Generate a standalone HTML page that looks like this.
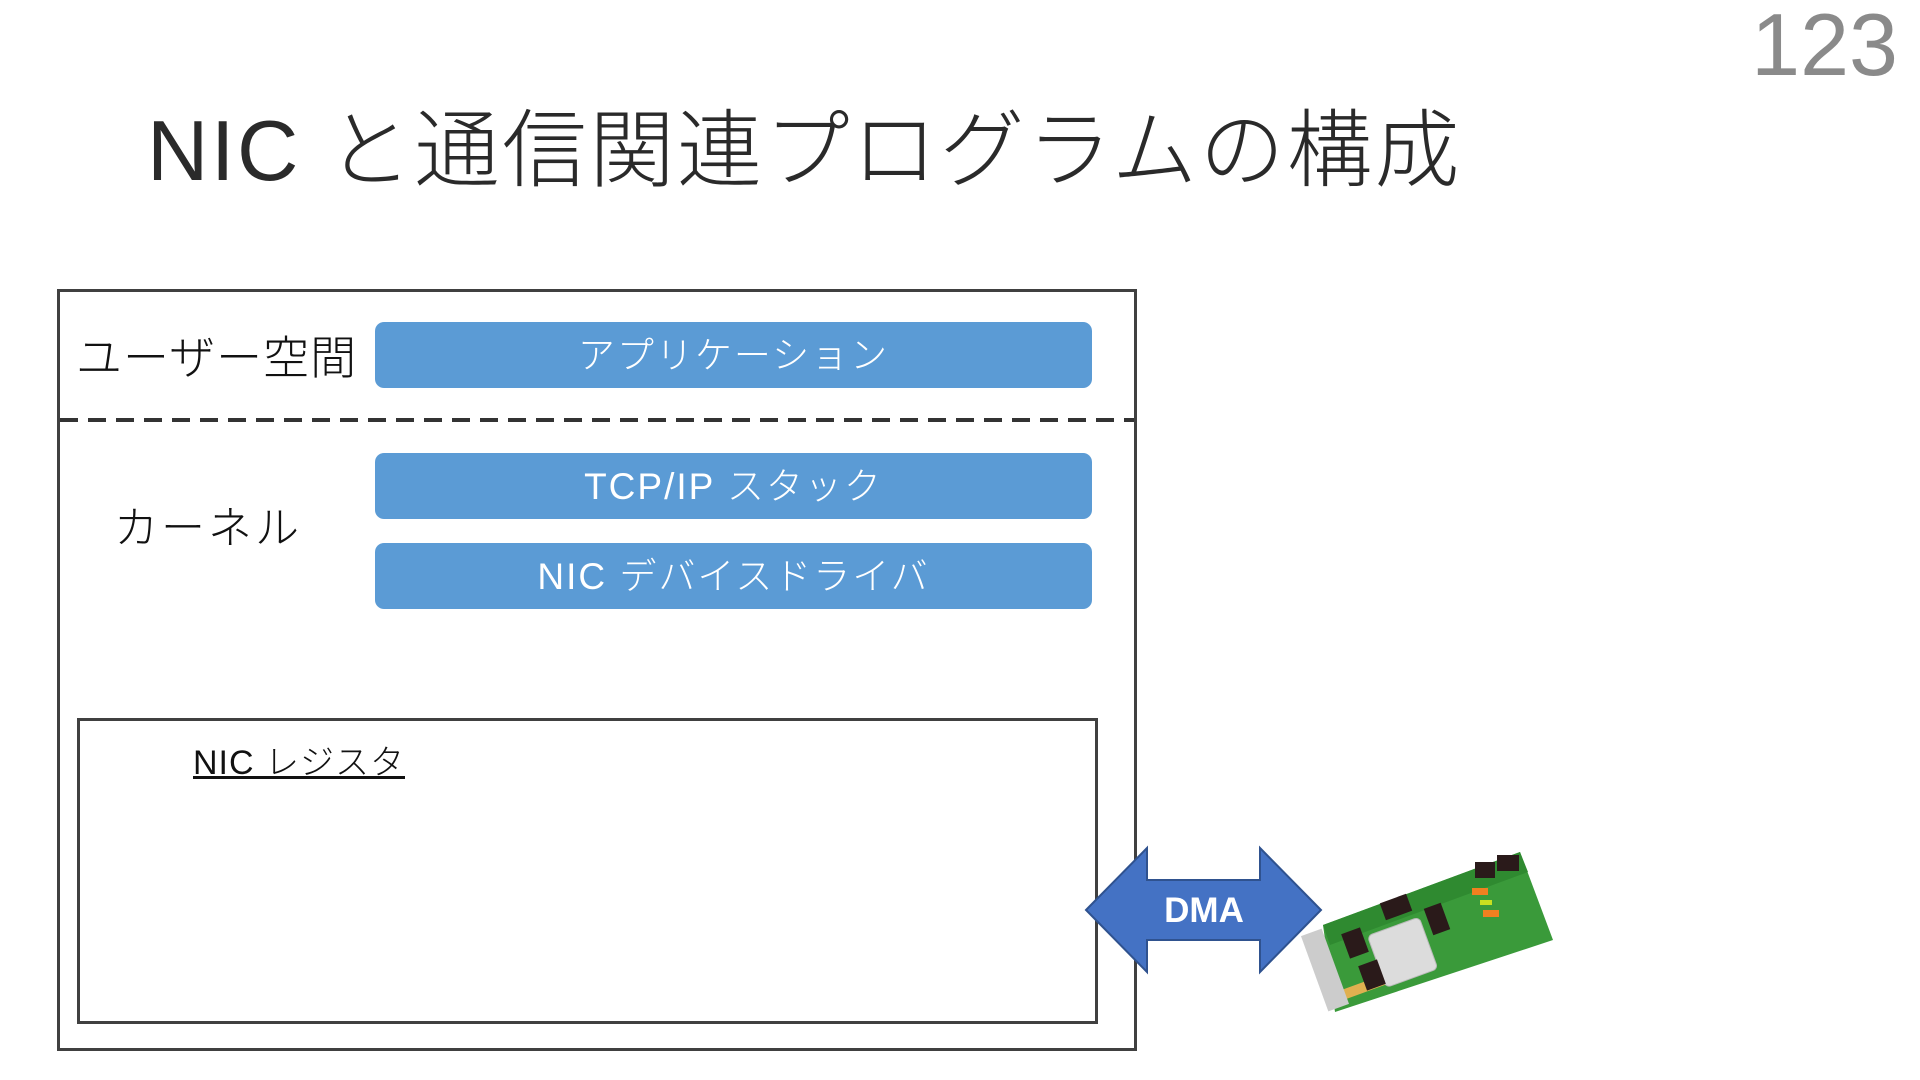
<!DOCTYPE html>
<html><head><meta charset="utf-8"><style>
body{margin:0;width:1920px;height:1080px;background:#fff;position:relative;overflow:hidden;font-family:"Liberation Sans","Noto Sans CJK JP",sans-serif}
.a{position:absolute}
.bx{position:absolute;background:#5b9bd5;border-radius:9px;color:#fff;font-size:37px;display:flex;align-items:center;justify-content:center;font-weight:300;letter-spacing:2px;padding-bottom:6px;box-sizing:border-box}
</style></head><body>
<div class="a" style="right:22px;top:-6px;font-size:88px;color:#8a8a8a;font-weight:300">123</div>
<div class="a" style="left:147px;top:82px;font-size:85px;color:#2a2a2a;font-weight:300;white-space:nowrap;letter-spacing:2.5px">NIC と通信関連プログラムの構成</div>
<div class="a" style="left:57px;top:289px;width:1074px;height:756px;border:3px solid #404040"></div>
<svg class="a" style="left:0;top:0" width="1920" height="1080"><line x1="60" y1="420" x2="1134" y2="420" stroke="#333" stroke-width="4" stroke-dasharray="18 10"/></svg>
<div class="a" style="left:76px;top:322px;font-size:46px;color:#111;font-weight:300;white-space:nowrap;letter-spacing:1px">ユーザー空間</div>
<div class="a" style="left:114px;top:492px;font-size:44px;color:#111;font-weight:300;white-space:nowrap;letter-spacing:3px">カーネル</div>
<div class="bx" style="left:375px;top:322px;width:717px;height:66px">アプリケーション</div>
<div class="bx" style="left:375px;top:453px;width:717px;height:66px">TCP/IP スタック</div>
<div class="bx" style="left:375px;top:543px;width:717px;height:66px">NIC デバイスドライバ</div>
<div class="a" style="left:77px;top:718px;width:1015px;height:300px;border:3px solid #404040"></div>
<div class="a" style="left:193px;top:735px;font-size:34px;color:#111;text-decoration:underline;font-weight:300;white-space:nowrap;letter-spacing:1px">NIC レジスタ</div>
<svg class="a" style="left:0;top:0" width="1920" height="1080">
<polygon points="1086,910 1147,848 1147,880 1260,880 1260,848 1321,910 1260,972 1260,940 1147,940 1147,972" fill="#4472c4" stroke="#2f528f" stroke-width="2"/>
<text x="1204" y="922" font-family="Liberation Sans" font-weight="bold" font-size="35" fill="#fff" text-anchor="middle">DMA</text>
<polygon points="1323,925 1520,852 1553,940 1335,1012" fill="#3a9a3a"/>
<polygon points="1323,925 1520,852 1528,872 1330,945" fill="#2f8a30"/>
<rect x="1340" y="980" width="60" height="10" fill="#e0b050" transform="rotate(-20 1370 985)"/>
<rect x="1375" y="925" width="55" height="55" rx="5" fill="#dcdcdc" stroke="#bbb" transform="rotate(-20 1402 952)"/>
<rect x="1345" y="930" width="20" height="26" fill="#2a1a1a" transform="rotate(-20 1355 943)"/>
<rect x="1362" y="962" width="20" height="26" fill="#2a1a1a" transform="rotate(-20 1372 975)"/>
<rect x="1382" y="898" width="28" height="18" fill="#2a1a1a" transform="rotate(-20 1396 907)"/>
<rect x="1428" y="905" width="18" height="28" fill="#2a1a1a" transform="rotate(-20 1437 919)"/>
<rect x="1475" y="862" width="20" height="16" fill="#2a1a1a"/>
<rect x="1497" y="855" width="22" height="16" fill="#2a1a1a"/>
<rect x="1472" y="888" width="16" height="7" fill="#f08020"/>
<rect x="1480" y="900" width="12" height="5" fill="#c8e020"/>
<rect x="1483" y="910" width="16" height="7" fill="#f08020"/>
<rect x="1314" y="930" width="22" height="80" fill="#ccc" transform="rotate(-20 1325 970)"/>
</svg>
</body></html>
